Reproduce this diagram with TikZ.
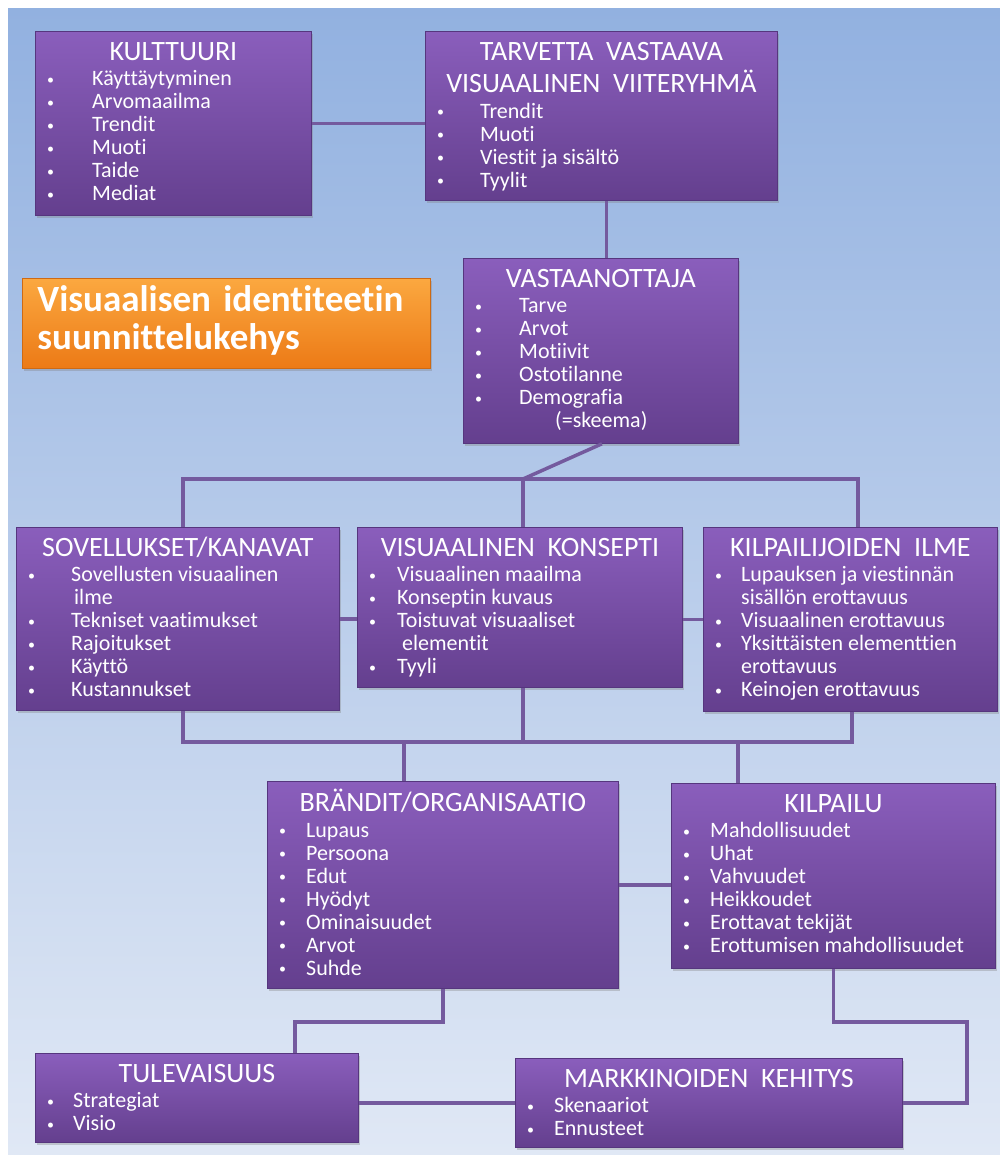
\documentclass[tikz,border=0pt]{standalone}
\usepackage{fontspec}
\setmainfont{Carlito}[Ligatures=NoCommon]
\usetikzlibrary{shadows, positioning}

\definecolor{boxtop}{RGB}{138,94,188}
\definecolor{boxbot}{RGB}{100,63,142}
\definecolor{boxedge}{RGB}{86,54,126}
\definecolor{linkcol}{RGB}{116,90,158}
\definecolor{skytop}{RGB}{146,177,224}
\definecolor{skybot}{RGB}{224,232,245}
\definecolor{orgtop}{RGB}{251,168,64}
\definecolor{orgbot}{RGB}{236,122,22}
\definecolor{orgedge}{RGB}{206,106,20}

% bullet line: #1 = indent of the text, #2 = text
\newcommand{\bitem}[2]{\strut\makebox[#1][l]{\hspace{12pt}\raisebox{1.5pt}{\fontsize{14}{14}\selectfont\textbullet}}#2}
% continued line of a bullet
\newcommand{\bmore}[2]{\strut\hspace*{#1}#2}

\begin{document}
\begin{tikzpicture}[x=1pt, y=-1pt,
    pbox/.style={rectangle, anchor=north west, inner sep=0pt,
        top color=boxtop, bottom color=boxbot, draw=boxedge, line width=0.8pt,
        drop shadow={shadow xshift=2pt, shadow yshift=-2.5pt, opacity=0.35}},
    ttl/.style={anchor=north, inner sep=0pt, text=white, align=center,
        font=\fontsize{28}{30}\selectfont},
    items/.style={anchor=north west, inner sep=0pt, text=white, align=left,
        font=\fontsize{22}{23}\selectfont},
    link/.style={draw=linkcol, line width=3.5pt}]

    % ---- Canvas ----
    \useasboundingbox (0,0) rectangle (1000,1162);
    \shade[top color=skytop, bottom color=skybot] (8,8) rectangle (1000,1154);

    % ---- Title ----
    \node[rectangle, anchor=north west, inner xsep=15pt, inner ysep=0pt,
        text width=378pt, minimum height=90pt, align=left,
        top color=orgtop, bottom color=orgbot, draw=orgedge, line width=0.8pt,
        drop shadow={shadow xshift=2pt, shadow yshift=-2.5pt, opacity=0.35},
        text=white, font=\fontsize{37}{37}\selectfont\bfseries]
        (frame) at (22,278) {\strut Visuaalisen identiteetin\\\strut suunnittelukehys};

    % ---- Kulttuuri ----
    \node[pbox, minimum width=276pt, minimum height=184pt] (kult) at (35,31) {};
    \node[ttl] (kult-t) at ([yshift=-8pt]kult.north) {\strut KULTTUURI};
    \node[items] (kult-i) at (kult.west |- kult-t.south)
        {\bitem{57pt}{Käyttäytyminen}\\\bitem{57pt}{Arvomaailma}\\\bitem{57pt}{Trendit}\\
         \bitem{57pt}{Muoti}\\\bitem{57pt}{Taide}\\\bitem{57pt}{Mediat}};

    % ---- Viiteryhma ----
    \node[pbox, minimum width=352pt, minimum height=169pt] (tarv) at (425,31) {};
    \node[ttl] (tarv-t) at ([yshift=-8pt]tarv.north)
        {\strut TARVETTA\ \ VASTAAVA\\\strut VISUAALINEN\ \ VIITERYHMÄ};
    \node[items] (tarv-i) at (tarv.west |- tarv-t.south)
        {\bitem{55pt}{Trendit}\\\bitem{55pt}{Muoti}\\\bitem{55pt}{Viestit ja sisältö}\\
         \bitem{55pt}{Tyylit}};

    % ---- Vastaanottaja ----
    \node[pbox, minimum width=275pt, minimum height=185pt] (vast) at (463,258) {};
    \node[ttl] (vast-t) at ([yshift=-8pt]vast.north) {\strut VASTAANOTTAJA};
    \node[items] (vast-i) at (vast.west |- vast-t.south)
        {\bitem{56pt}{Tarve}\\\bitem{56pt}{Arvot}\\\bitem{56pt}{Motiivit}\\
         \bitem{56pt}{Ostotilanne}\\\bitem{56pt}{Demografia}\\\bmore{92pt}{(=skeema)}};

    % ---- Sovellukset ----
    \node[pbox, minimum width=323pt, minimum height=183pt] (sov) at (16,527) {};
    \node[ttl] (sov-t) at ([yshift=-8pt]sov.north) {\strut SOVELLUKSET/KANAVAT};
    \node[items] (sov-i) at (sov.west |- sov-t.south)
        {\bitem{55pt}{Sovellusten visuaalinen}\\\bmore{58pt}{ilme}\\
         \bitem{55pt}{Tekniset vaatimukset}\\\bitem{55pt}{Rajoitukset}\\
         \bitem{55pt}{Käyttö}\\\bitem{55pt}{Kustannukset}};

    % ---- Konsepti ----
    \node[pbox, minimum width=325pt, minimum height=160pt] (konsepti) at (357,527) {};
    \node[ttl] (konsepti-t) at ([yshift=-8pt]konsepti.north) {\strut VISUAALINEN\ \ KONSEPTI};
    \node[items] (konsepti-i) at (konsepti.west |- konsepti-t.south)
        {\bitem{40pt}{Visuaalinen maailma}\\\bitem{40pt}{Konseptin kuvaus}\\
         \bitem{40pt}{Toistuvat visuaaliset}\\\bmore{45pt}{elementit}\\
         \bitem{40pt}{Tyyli}};

    % ---- Kilpailijoiden ilme ----
    \node[pbox, minimum width=294pt, minimum height=184pt] (kilpi) at (703,527) {};
    \node[ttl] (kilpi-t) at ([yshift=-8pt]kilpi.north) {\strut KILPAILIJOIDEN\ \ ILME};
    \node[items] (kilpi-i) at (kilpi.west |- kilpi-t.south)
        {\bitem{38pt}{Lupauksen ja viestinnän}\\\bmore{38pt}{sisällön erottavuus}\\
         \bitem{38pt}{Visuaalinen erottavuus}\\\bitem{38pt}{Yksittäisten elementtien}\\
         \bmore{38pt}{erottavuus}\\\bitem{38pt}{Keinojen erottavuus}};

    % ---- Brandit ----
    \node[pbox, minimum width=351pt, minimum height=207pt] (brand) at (267,781) {};
    \node[ttl] (brand-t) at ([yshift=-8pt]brand.north) {\strut BRÄNDIT/ORGANISAATIO};
    \node[items] (brand-i) at (brand.west |- brand-t.south)
        {\bitem{39pt}{Lupaus}\\\bitem{39pt}{Persoona}\\\bitem{39pt}{Edut}\\
         \bitem{39pt}{Hyödyt}\\\bitem{39pt}{Ominaisuudet}\\\bitem{39pt}{Arvot}\\
         \bitem{39pt}{Suhde}};

    % ---- Kilpailu ----
    \node[pbox, minimum width=324pt, minimum height=185pt] (kilp) at (671,783) {};
    \node[ttl] (kilp-t) at ([yshift=-8pt]kilp.north) {\strut KILPAILU};
    \node[items] (kilp-i) at (kilp.west |- kilp-t.south)
        {\bitem{39pt}{Mahdollisuudet}\\\bitem{39pt}{Uhat}\\\bitem{39pt}{Vahvuudet}\\
         \bitem{39pt}{Heikkoudet}\\\bitem{39pt}{Erottavat tekijät}\\
         \bitem{39pt}{Erottumisen mahdollisuudet}};

    % ---- Tulevaisuus ----
    \node[pbox, minimum width=323pt, minimum height=89pt] (tule) at (35,1053) {};
    \node[ttl] (tule-t) at ([yshift=-8pt]tule.north) {\strut TULEVAISUUS};
    \node[items] (tule-i) at (tule.west |- tule-t.south)
        {\bitem{38pt}{Strategiat}\\\bitem{38pt}{Visio}};

    % ---- Markkinoiden kehitys ----
    \node[pbox, minimum width=387pt, minimum height=89pt] (mark) at (515,1058) {};
    \node[ttl] (mark-t) at ([yshift=-8pt]mark.north) {\strut MARKKINOIDEN\ \ KEHITYS};
    \node[items] (mark-i) at (mark.west |- mark-t.south)
        {\bitem{39pt}{Skenaariot}\\\bitem{39pt}{Ennusteet}};

    % ---- Junctions ----
    \coordinate (busA) at (183,479);
    \coordinate (busB) at (523,479);
    \coordinate (busC) at (858,479);
    \coordinate (busD) at (183,742);
    \coordinate (busE) at (523,742);
    \coordinate (busF) at (852,742);
    \coordinate (busG) at (404,742);
    \coordinate (busH) at (738,742);
    \coordinate (futJ) at (295,1022);
    \coordinate (mktJ) at (967,1022);

    % ---- Connectors ----
    \draw[link] (kult.east) -- (kult.east -| tarv.west);
    \draw[link] ([xshift=5pt]tarv.south) -- ([xshift=5pt]tarv.south |- vast.north);
    \draw[link] ([xshift=1pt]vast.south) -- (busB);
    \draw[link] (busA |- sov.north) -- (busA) -- (busC) -- (busC |- kilpi.north);
    \draw[link] (busB) -- (busB |- konsepti.north);
    \draw[link] (sov.east) -- (sov.east -| konsepti.west);
    \draw[link] (konsepti.east |- kilpi.west) -- (kilpi.west);
    \draw[link] (busD |- sov.south) -- (busD) -- (busF) -- (busF |- kilpi.south);
    \draw[link] (busE |- konsepti.south) -- (busE);
    \draw[link] (busG) -- (busG |- brand.north);
    \draw[link] (busH) -- (busH |- kilp.north);
    \draw[link] (brand.east) -- (brand.east -| kilp.west);
    \draw[link] (brand.south) |- (futJ) -- (futJ |- tule.north);
    \draw[link] (kilp.south) |- (mktJ) |- (mark.east);
    \draw[link] (tule.east |- mark.west) -- (mark.west);

\end{tikzpicture}
\end{document}
